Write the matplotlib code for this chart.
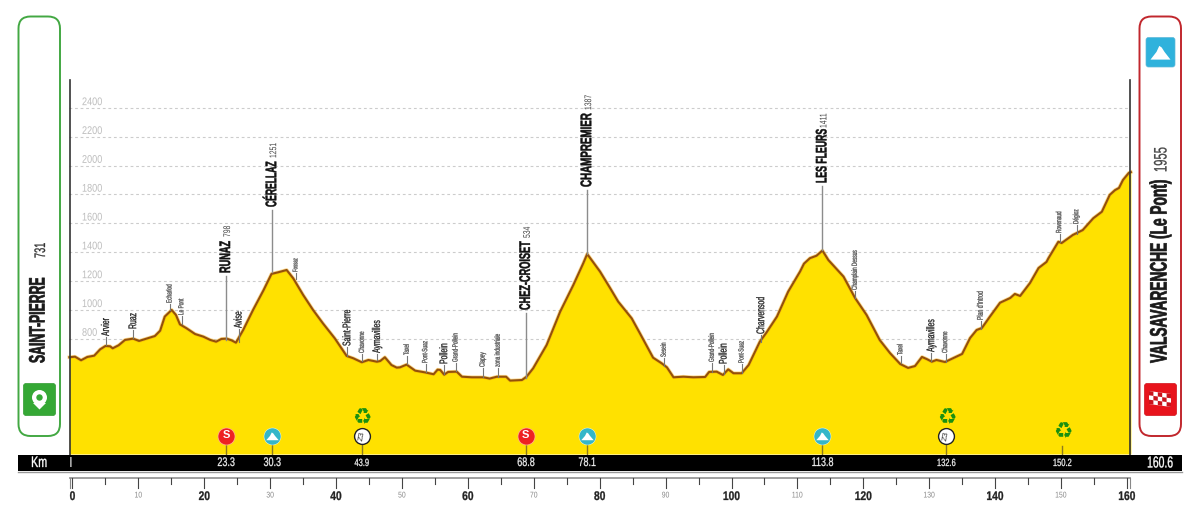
import matplotlib
matplotlib.use('Agg')
import matplotlib.pyplot as plt
from matplotlib.patches import FancyBboxPatch, Circle, Polygon
from matplotlib.patheffects import AbstractPathEffect
from matplotlib.transforms import Affine2D, blended_transform_factory

plt.rcParams['font.family'] = ['Liberation Sans', 'DejaVu Sans']

# profile
km = [-0.48, 0.38, 1.3, 2.25, 3.3, 4.2, 5.0, 5.7, 6.1, 7.0, 7.97, 9.2, 10.1, 11.25, 12.5, 13.3, 14.0,
      15.05, 15.7, 16.3, 17.3, 18.6, 19.85, 20.9, 21.8, 22.6, 23.4, 24.15, 24.8, 25.9, 27.4, 29.0, 30.2,
      31.2, 32.5, 33.5, 35.0, 36.5, 38.0, 39.8, 41.6, 42.6, 43.9, 44.9, 46.2, 46.7, 47.4, 48.4, 49.2,
      49.7, 50.7, 52.0, 53.5, 54.8, 55.4, 55.8, 56.4, 57.0, 58.3, 59.1, 60.6, 62.35, 63.3, 64.4, 65.8,
      66.4, 68.2, 68.9, 69.9, 71.95, 74.0, 76.0, 77.5, 78.1, 80.05, 81.6, 82.8, 84.85, 86.1, 88.1, 89.4,
      90.2, 91.2, 92.7, 94.2, 96.0, 96.6, 97.75, 98.7, 99.5, 100.3, 101.55, 102.6, 104.3, 105.3, 106.9,
      108.6, 110.4, 111.0, 111.9, 112.9, 113.8, 114.7, 117.0, 118.75, 120.5, 122.5, 124.05, 125.6, 126.8,
      127.85, 128.9, 129.6, 130.4, 131.1, 132.4, 133.7, 135.0, 136.2, 137.2, 138.0, 139.2, 140.75, 142.3,
      143.0, 143.8, 145.3, 146.6, 147.8, 148.1, 149.6, 150.1, 151.8, 153.3, 154.9, 156.2, 157.4, 158.2,
      158.8, 159.4, 160.3, 160.6]
elev = [671, 675, 650, 673, 682, 726, 749, 747, 733, 754, 791, 800, 784, 800, 818, 855, 953,
        999, 964, 899, 872, 832, 814, 791, 779, 798, 800, 788, 772, 860, 999, 1137, 1249,
        1260, 1276, 1218, 1103, 999, 906, 802, 680, 664, 636, 652, 640, 645, 671, 617, 599,
        601, 620, 578, 566, 553, 585, 583, 550, 569, 571, 536, 532, 532, 523, 536, 536,
        509, 513, 536, 594, 756, 987, 1172, 1322, 1387, 1265, 1149, 1057, 941, 837, 668, 629,
        601, 532, 536, 532, 534, 569, 571, 548, 587, 560, 560, 617, 779, 842, 953,
        1126, 1265, 1320, 1358, 1375, 1411, 1345, 1230, 1082, 964, 790, 700, 624, 597,
        610, 673, 659, 640, 652, 638, 666, 694, 804, 860, 874, 952, 1049, 1082,
        1110, 1096, 1186, 1290, 1332, 1358, 1472, 1463, 1519, 1553, 1635, 1680, 1797, 1830,
        1845, 1900, 1950, 1955]

grid_levels = [800, 1000, 1200, 1400, 1600, 1800, 2000, 2200, 2400]

# big climbs: km, name, height label, y of text foot, y of height foot, y of stem foot
climb_km = [23.3, 30.3, 68.8, 78.1, 113.8]
climb_names = ['RUNAZ', 'CÉRELLAZ', 'CHEZ-CROISET', 'CHAMPREMIER', 'LES FLEURS']
climb_heights = ['798', '1251', '534', '1387', '1411']
climb_foot = [273, 207, 310, 187, 183]
climb_hfoot = [237, 158, 238, 110, 128]
climb_stem = [340, 272, 378, 254, 250]
climb_squeeze = [0.6, 0.56, 0.6, 0.64, 0.57]

# places along the road
place_km = [5.08, 9.2, 14.8, 16.6, 25.2, 33.9, 41.7, 44.0, 46.2, 50.8, 53.6, 56.4, 58.2, 62.3, 64.6,
            89.8, 97.1, 98.8, 101.6, 104.5, 118.8, 125.7, 130.3, 132.5, 137.9, 149.8, 152.4]
place_names = ['Arvier', 'Ruaz', 'Echarlod', 'Le Pont', 'Avise', 'Fossaz', 'Saint-Pierre', 'Chavonne',
               'Aymavilles', 'Taxel', 'Pont-Suaz', 'Pollein', 'Grand-Pollein', 'Clapey', 'zona industriale',
               'Sesein', 'Grand-Pollein', 'Pollein', 'Pont-Suaz', 'Charvensod', 'Champlain Dessus', 'Taxel',
               'Aymavilles', 'Chavonne', "Plan d'Introd", 'Rovenaud', 'Dégioz']
place_foot = [336, 329, 303, 315, 328, 272, 346, 353, 353, 355, 363, 364, 362, 367, 367,
              357, 362, 364, 363, 334, 290, 355, 352, 353, 320, 233, 224]
place_stem = [345, 338, 310, 324, 342, 279, 356, 361, 360, 364, 372, 374, 371, 377, 377,
              366, 372, 374, 373, 342, 298, 363, 361, 362, 329, 242, 234]
place_size = [8, 8, 5.5, 5.5, 8, 5, 8, 5.5, 8, 5.5, 5.5, 8, 5.5, 5.5, 5.5,
              5.5, 5.5, 8, 5.5, 8, 5.5, 5.5, 8, 5.5, 6, 5.5, 5.5]

# things on the km band
sprint_km = [23.3, 68.8]
gpm_km = [30.3, 78.1, 113.8]
feed_km = [43.9, 132.6]
recycle_km = [150.2]
band_km = [23.3, 30.3, 43.9, 68.8, 78.1, 113.8, 132.6, 150.2]
band_text = ['23.3', '30.3', '43.9', '68.8', '78.1', '113.8', '132.6', '150.2']
band_size = [9, 9, 7.5, 9, 9, 9, 7.5, 7.5]
scale_ticks = list(range(0, 165, 5))
scale_labels = list(range(0, 170, 10))


class Condense(AbstractPathEffect):
    # no condensed font here, so squeeze the glyphs along the baseline
    # and stroke them a little so the stems do not go thin
    def __init__(self, sx, center=False, stroke=0.0):
        super().__init__()
        self.sx = sx
        self.center = center
        self.stroke = stroke

    def draw_path(self, renderer, gc, tpath, affine, rgbFace):
        cx = 0
        if self.center:
            ext = tpath.get_extents()
            cx = (ext.x0 + ext.x1) / 2
        squeeze = Affine2D().translate(-cx, 0).scale(self.sx, 1).translate(cx, 0)
        gc0 = renderer.new_gc()
        gc0.copy_properties(gc)
        gc0.set_linewidth(self.stroke)
        gc0.set_foreground(rgbFace)
        renderer.draw_path(gc0, tpath.transformed(squeeze), affine, rgbFace)
        gc0.restore()


fig = plt.figure(figsize=(12, 5.21), dpi=100)
ax = fig.add_axes([0, 0, 1, 1])
ax.set_xlim((0 - 72.5) / 6.59, (1200 - 72.5) / 6.59)
ax.set_ylim((454 - 521) / 0.1442, 454 / 0.1442)
ax.axis('off')
# second axes in image pixels for the panels and the band
ov = fig.add_axes([0, 0, 1, 1], facecolor='none')
ov.set_xlim(0, 1200)
ov.set_ylim(521, 0)
ov.axis('off')
tr = blended_transform_factory(ax.transData, ov.transData)

ax.hlines(grid_levels, km[0], km[-1] - 0.2, color='#cccccc', lw=0.8, ls=(0, (2.5, 2.5)), zorder=1)
for g in grid_levels:
    ax.text(1.44, g + 40, str(g), color='#bdbdbd', fontsize=8, ha='left', va='center', zorder=1,
            path_effects=[Condense(0.82)])

ax.fill_between(km, 0, elev, color='#ffe100', lw=0, zorder=2)
ax.plot(km, elev, color='#f5a800', lw=2.6, alpha=0.45, zorder=3)
ax.plot(km, elev, color='#94500a', lw=1.5, zorder=3, solid_joinstyle='round')

ov.plot([69.5, 69.5], [80, 455], color='#333333', lw=1.2, zorder=4)
ov.plot([1130, 1130], [80, 455], color='#333333', lw=1.2, zorder=4)

for k, n, h, foot, hfoot, stem, sq in zip(climb_km, climb_names, climb_heights, climb_foot, climb_hfoot,
                                          climb_stem, climb_squeeze):
    ov.plot([k, k], [foot + 3, stem], color='#8c8c8c', lw=1, transform=tr, zorder=4)
    ov.text(k, foot, n, rotation=90, ha='center', va='bottom', fontsize=11, weight='bold',
            color='#111111', transform=tr, zorder=5, path_effects=[Condense(sq, stroke=0.35)])
    ov.text(k + 0.15, hfoot, h, rotation=90, ha='center', va='bottom', fontsize=7, color='#444444',
            transform=tr, zorder=5, path_effects=[Condense(0.7)])

for k, n, foot, stem, s in zip(place_km, place_names, place_foot, place_stem, place_size):
    ov.plot([k, k], [foot + 1, stem], color='#777777', lw=0.8, transform=tr, zorder=4)
    c = '#222222' if s >= 7 else '#555555'
    ov.text(k, foot, n, rotation=90, ha='center', va='bottom', fontsize=s, color=c, transform=tr, zorder=5,
            path_effects=[Condense(0.62, stroke=0.2)])

# side panels
ov.add_patch(FancyBboxPatch((18.5 + 12, 16.5 + 12), 41.5 - 24, 419.5 - 24, boxstyle='round,pad=12',
                            fc='white', ec='#43a843', lw=1.4, zorder=4))
ov.add_patch(FancyBboxPatch((1139.5 + 12, 16.5 + 12), 41.5 - 24, 419.5 - 24, boxstyle='round,pad=12',
                            fc='white', ec='#c1272d', lw=1.4, zorder=4))
ov.text(39, 363, 'SAINT-PIERRE', rotation=90, ha='center', va='bottom', fontsize=16, weight='bold',
        color='#1a1a1a', zorder=5, path_effects=[Condense(0.55, stroke=0.5)])
ov.text(41, 258, '731', rotation=90, ha='center', va='bottom', fontsize=11, color='#333333', zorder=5,
        path_effects=[Condense(0.6, stroke=0.2)])
ov.text(1160, 363, 'VALSAVARENCHE (Le Pont)', rotation=90, ha='center', va='bottom', fontsize=17,
        weight='bold', color='#1a1a1a', zorder=5, path_effects=[Condense(0.58, stroke=0.5)])
ov.text(1162, 172, '1955', rotation=90, ha='center', va='bottom', fontsize=13, color='#444444', zorder=5,
        path_effects=[Condense(0.62, stroke=0.2)])

# start pin
ov.add_patch(FancyBboxPatch((26, 386), 27, 27, boxstyle='round,pad=2.5', fc='#35a835', ec='#2f9a2f', lw=0.5, zorder=5))
ov.add_patch(Polygon([[33, 403], [46, 403], [39.5, 409.5]], fc='white', ec='none', zorder=6))
ov.add_patch(Circle((39.5, 397.5), 7.5, fc='white', ec='none', zorder=6))
ov.add_patch(Circle((39.5, 397.5), 3.2, fc='#35a835', ec='none', zorder=7))
# finish flag
ov.add_patch(FancyBboxPatch((1147, 386), 27, 27, boxstyle='round,pad=2.5', fc='#e8141c', ec='#d01018', lw=0.5, zorder=5))
ov.add_patch(Polygon([[1149, 391], [1171, 394], [1171, 407], [1149, 404]], fc='white', ec='none', zorder=6))
for i in range(5):
    for j in range(3):
        if (i + j) % 2 == 0:
            x0 = 1149 + i * 4.4
            y0 = 391 + i * 0.6 + j * 4.33
            ov.add_patch(Polygon([[x0, y0], [x0 + 4.4, y0 + 0.6], [x0 + 4.4, y0 + 4.9], [x0, y0 + 4.33]],
                                 fc='#c8141c', ec='none', zorder=7))
# finish climb icon
mountain = [(-1, -0.6), (-0.4, 0.1), (-0.12, 0.65), (0.12, 0.5), (0.4, 0.1), (1, -0.6)]
ov.add_patch(FancyBboxPatch((1148.5, 40), 24, 24.5, boxstyle='round,pad=2.5', fc='#2fb2dc', ec='#5fb8d8', lw=0.5, zorder=5))
ov.add_patch(Polygon([[1160.5 + 10 * a, 53 - 11 * b] for a, b in mountain], fc='white', ec='none', zorder=6))

# km band
ov.fill_between([18, 1182], 455, 471, color='black', lw=0, zorder=6)
ov.plot([18, 1182], [471.7, 471.7], color='#999999', lw=1, zorder=6)
ov.text(39, 463, 'Km', color='white', fontsize=11, ha='center', va='center', zorder=7,
        path_effects=[Condense(0.7, center=True, stroke=0.25)])
ov.text(70.8, 463, 'I', color='#dddddd', fontsize=10, ha='center', va='center', zorder=7)
ov.text(1160, 463, '160.6', color='white', fontsize=11.5, ha='center', va='center', zorder=7,
        path_effects=[Condense(0.65, center=True, stroke=0.25)])
for k, s, z in zip(band_km, band_text, band_size):
    ov.text(k, 463, s, color='#eeeeee', fontsize=z, ha='center', va='center', transform=tr, zorder=7,
            path_effects=[Condense(0.72, center=True, stroke=0.2)])

# markers above the band
for k in sprint_km + gpm_km + feed_km:
    ov.plot([k, k], [445, 455], color='#8c7a20', lw=1, transform=tr, zorder=5)
ov.plot([150.2, 150.2], [446, 455], color='#8c7a20', lw=1, transform=tr, zorder=5)
for k in sprint_km:
    ov.scatter([k], [435.5], s=150, c='#ee2222', edgecolors='#ffb0a0', linewidths=0.5, transform=tr, zorder=6)
    ov.text(k, 435.5, 'S', color='white', fontsize=8, weight='bold', ha='center', va='center', transform=tr, zorder=7)
for k in gpm_km:
    ov.scatter([k], [435.5], s=150, c='#35b6c8', edgecolors='#ffffff', linewidths=0.3, transform=tr, zorder=6)
    ov.scatter([k], [436], s=80, c='white', marker=mountain, linewidths=0, transform=tr, zorder=7)
for k in feed_km:
    ov.scatter([k], [435.5], s=130, c='white', edgecolors='#222222', linewidths=1, transform=tr, zorder=6)
    ov.text(k, 435.5, 'Z3', color='#333333', fontsize=6, rotation=80, ha='center', va='center', transform=tr, zorder=7)
    ov.text(k, 418, '\u267b', family='DejaVu Sans', color='#1a9010', fontsize=15.5, weight='bold', ha='center', va='center', transform=tr, zorder=7)
for k in recycle_km:
    ov.text(k, 431.5, '\u267b', family='DejaVu Sans', color='#1a9010', fontsize=15.5, weight='bold', ha='center', va='center', transform=tr, zorder=7)

# km scale
ov.plot([69.5, 1130], [477.7, 477.7], color='#999999', lw=1.3, zorder=4)
for k in scale_ticks:
    ov.plot([k, k], [477.7, 488 if k % 10 == 0 else 484], color='#444444', lw=0.8, transform=tr, zorder=4)
ov.plot([69.5, 69.5], [477.7, 488], color='#888888', lw=0.8, zorder=4)
ov.plot([1130, 1130], [477.7, 488], color='#888888', lw=0.8, zorder=4)
for k in scale_labels:
    if k % 20 == 0:
        ov.text(k, 497, str(k), fontsize=9, weight='bold', color='#222222', ha='center', va='center', transform=tr, zorder=5,
                path_effects=[Condense(0.82, center=True, stroke=0.2)])
    else:
        ov.text(k, 496, str(k), fontsize=6, color='#888888', ha='center', va='center', transform=tr, zorder=5,
                path_effects=[Condense(0.82, center=True)])

fig.savefig('out.png', dpi=100, facecolor='white')
